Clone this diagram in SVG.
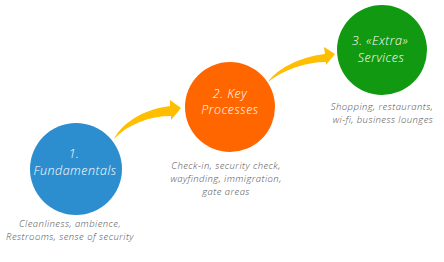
<svg xmlns="http://www.w3.org/2000/svg" width="444" height="262" viewBox="0 0 444 262">
<style>
.lbl{font-family:"Open Sans","Liberation Sans",sans-serif;font-style:italic;font-weight:300;fill:#ffffff;text-anchor:middle;font-size:12.5px;letter-spacing:0.5px}
.desc{font-family:"Open Sans","Liberation Sans",sans-serif;font-style:italic;font-weight:300;fill:#505050;text-anchor:middle;font-size:9.5px;letter-spacing:0.45px}
.arrow{fill:#FFBE00}
</style>
<rect width="444" height="262" fill="#ffffff"/>
<g id="connectors">
<path class="arrow" d="M114,139 C120,127 138,110 170,106 L170,100 L181,108 L171,120 L171,116 C150,116 128,124 114,139 Z"/>
<path class="arrow" d="M268,82 C276,70 298,57 325,54 L324,47 L335,54 L326,65 L326,62 C305,62 283,70 268,82 Z"/>
</g>
<g id="node1">
<circle cx="76" cy="169" r="46" fill="#2D8ECF"/>
<text class="lbl" x="74" y="158">1.</text>
<text class="lbl" x="75" y="175">Fundamentals</text>
<text class="desc" x="70" y="227">Cleanliness, ambience<tspan fill="#2D8ECF">,</tspan></text>
<text class="desc" x="70" y="240">Restrooms, sense of security</text>
</g>
<g id="node2">
<circle cx="230" cy="107" r="45" fill="#FF6600"/>
<text class="lbl" x="230" y="98">2. Key</text>
<text class="lbl" x="230" y="114">Processes</text>
<text class="desc" x="226" y="169">Check-in, security check,</text>
<text class="desc" x="226" y="182">wayfinding, immigration,</text>
<text class="desc" x="226" y="195">gate areas</text>
</g>
<g id="node3">
<circle cx="382" cy="50" r="45" fill="#119911"/>
<text class="lbl" x="380" y="45">3. «Extra»</text>
<text class="lbl" x="381" y="62">Services</text>
<text class="desc" x="382" y="110">Shopping, restaurants,</text>
<text class="desc" x="383" y="123">wi-fi, business lounges</text>
</g>
</svg>
